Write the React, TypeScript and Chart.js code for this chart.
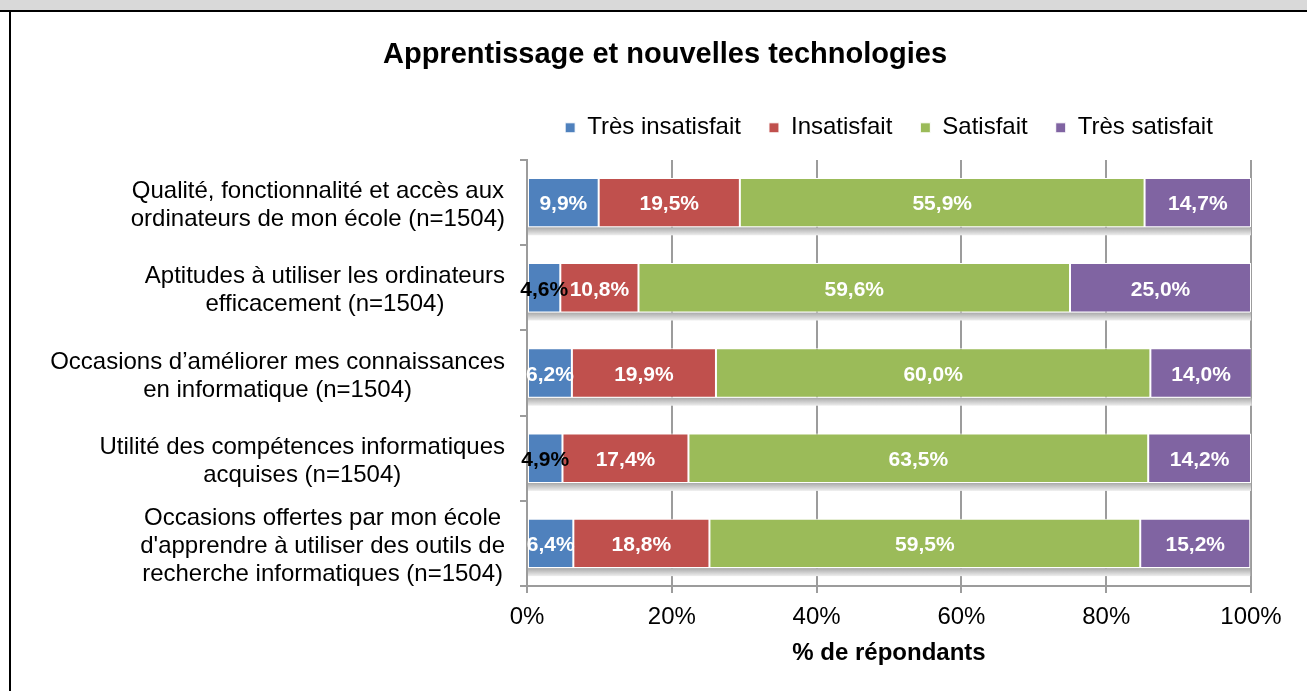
import React, { useEffect, useRef } from "react";
import { Chart, registerables } from "chart.js";

Chart.register(...registerables);

const chartTitle = "Apprentissage et nouvelles technologies";
const axisTitle = "% de répondants";
const categories: string[][] = [
  ["Qualité, fonctionnalité et accès aux", "ordinateurs de mon école (n=1504)"],
  ["Aptitudes à utiliser les ordinateurs", "efficacement (n=1504)"],
  ["Occasions d’améliorer mes connaissances", "en informatique (n=1504)"],
  ["Utilité des compétences informatiques", "acquises (n=1504)"],
  ["Occasions offertes par mon école", "d'apprendre à utiliser des outils de", "recherche informatiques (n=1504)"],
];
const seriesNames = ["Très insatisfait", "Insatisfait", "Satisfait", "Très satisfait"];
const tresInsatisfait = [9.9, 4.6, 6.2, 4.9, 6.4];
const insatisfait = [19.5, 10.8, 19.9, 17.4, 18.8];
const satisfait = [55.9, 59.6, 60.0, 63.5, 59.5];
const tresSatisfait = [14.7, 25.0, 14.0, 14.2, 15.2];
const seriesColors = ["#4F81BD", "#C0504D", "#9BBB59", "#8064A2"];
const xTickValues = [0, 20, 40, 60, 80, 100];

const FONT = '"Liberation Sans", Arial, sans-serif';
const GRID = "#9c9c9c";

const shadowPlugin = {
  id: "rowShadow",
  beforeDatasetsDraw(chart: any) {
    const metas = chart.getSortedVisibleDatasetMetas();
    if (!metas.length) return;
    const first = metas[0];
    const last = metas[metas.length - 1];
    const ctx = chart.ctx;
    ctx.save();
    first.data.forEach((el: any, i: number) => {
      const a = el.getProps(["x", "base", "y", "height"], true);
      const b = last.data[i].getProps(["x", "base", "y", "height"], true);
      const top = a.y + a.height / 2;
      const g = ctx.createLinearGradient(0, top, 0, top + 8);
      g.addColorStop(0, "#a9a9a9");
      g.addColorStop(1, "#eeeeee");
      ctx.fillStyle = g;
      ctx.fillRect(a.base, top, b.x - a.base, 8);
    });
    ctx.restore();
  },
};

const valueLabelPlugin = {
  id: "valueLabels",
  afterDatasetsDraw(chart: any) {
    const ctx = chart.ctx;
    ctx.save();
    ctx.font = `bold 21px ${FONT}`;
    ctx.textAlign = "center";
    ctx.textBaseline = "middle";
    chart.getSortedVisibleDatasetMetas().forEach((meta: any) => {
      const ds = chart.data.datasets[meta.index];
      meta.data.forEach((el: any, i: number) => {
        const v = ds.data[i] as number;
        const p = el.getProps(["x", "base", "y"], true);
        ctx.fillStyle = v < 5 ? "#000000" : "#ffffff";
        ctx.fillText(v.toFixed(1).replace(".", ",") + "%", (p.x + p.base) / 2, p.y + 2);
      });
    });
    ctx.restore();
  },
};

const categoryLabelPlugin = {
  id: "categoryLabels",
  afterDraw(chart: any) {
    const ctx = chart.ctx;
    const y = chart.scales.y;
    ctx.save();
    ctx.font = `24px ${FONT}`;
    ctx.fillStyle = "#000000";
    ctx.textAlign = "center";
    ctx.textBaseline = "middle";
    const right = y.right - 7 - 15;
    const lh = 28;
    categories.forEach((lines, i) => {
      const cy = y.getPixelForValue(i) + 3;
      const w = Math.max(...lines.map((l) => ctx.measureText(l).width));
      const cx = right - w / 2;
      lines.forEach((line, j) => {
        ctx.fillText(line, cx, cy + (j - (lines.length - 1) / 2) * lh);
      });
    });
    ctx.restore();
  },
};

export default function App() {
  const ref = useRef<HTMLCanvasElement>(null);
  useEffect(() => {
    if (!ref.current) return;
    const seriesValues = [tresInsatisfait, insatisfait, satisfait, tresSatisfait];
    const chart = new Chart(ref.current, {
      type: "bar",
      data: {
        labels: categories.map((c) => c.join(" ")),
        datasets: seriesNames.map((name, k) => ({
          label: name,
          data: seriesValues[k],
          backgroundColor: seriesColors[k],
          borderColor: "#ffffff",
          borderWidth: 1,
          borderSkipped: false,
          categoryPercentage: 1,
          barPercentage: 0.58,
        })),
      },
      options: {
        indexAxis: "y",
        responsive: false,
        animation: false,
        layout: { padding: { left: 68, right: 56, top: 0, bottom: 22 } },
        plugins: {
          title: {
            display: true,
            text: chartTitle,
            color: "#000000",
            font: { family: FONT, size: 29, weight: "bold" },
            padding: { top: 26, bottom: 15 },
          },
          subtitle: {
            display: true,
            text: "",
            weight: 500,
            font: { size: 1 },
            padding: { top: 0, bottom: 9 },
          },
          legend: {
            display: true,
            position: "top",
            fullSize: false,
            labels: {
              boxWidth: 10,
              boxHeight: 10,
              padding: 28,
              color: "#000000",
              font: { family: FONT, size: 24 },
            },
          },
          tooltip: { enabled: false },
        },
        scales: {
          x: {
            type: "linear",
            stacked: true,
            min: 0,
            max: 100,
            afterBuildTicks: (s: any) => {
              s.ticks = xTickValues.map((v) => ({ value: v }));
            },
            ticks: {
              color: "#000000",
              font: { family: FONT, size: 24, lineHeight: 1 },
              padding: 12,
              callback: (v: any) => v + "%",
            },
            grid: { color: GRID, lineWidth: 2, tickLength: 7 },
            border: { display: true, color: GRID, width: 2 },
            title: {
              display: true,
              text: axisTitle,
              color: "#000000",
              font: { family: FONT, size: 24, weight: "bold", lineHeight: 1 },
              padding: { top: 0, bottom: 4 },
            },
          },
          y: {
            type: "category",
            stacked: true,
            offset: true,
            afterFit: (s: any) => {
              s.width = 448;
            },
            ticks: { display: false },
            grid: {
              display: true,
              drawOnChartArea: false,
              drawTicks: true,
              tickLength: 7,
              color: GRID,
              lineWidth: 2,
              offset: true,
            },
            border: { display: true, color: GRID, width: 2 },
          },
        },
      },
      plugins: [shadowPlugin, valueLabelPlugin, categoryLabelPlugin],
    } as any);
    return () => chart.destroy();
  }, []);

  return (
    <div style={{ position: "fixed", left: 0, top: 0, width: 1307, height: 691, background: "#ffffff", overflow: "hidden" }}>
      <div style={{ position: "absolute", left: 0, top: 0, width: 1307, height: 10, background: "#d9d9d9", borderBottom: "2px solid #000000" }} />
      <div style={{ position: "absolute", left: 9, top: 10, width: 2, height: 681, background: "#000000" }} />
      <canvas ref={ref} width={1296} height={679} style={{ position: "absolute", left: 11, top: 12, width: 1296, height: 679 }} />
    </div>
  );
}
